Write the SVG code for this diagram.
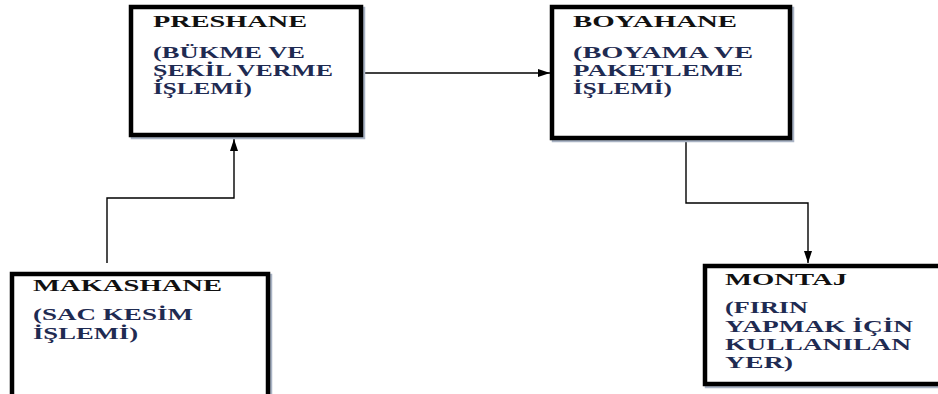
<svg xmlns="http://www.w3.org/2000/svg" width="938" height="394" viewBox="0 0 938 394">
<defs>
<marker id="arr" viewBox="0 0 12 8" refX="12" refY="4" markerWidth="12" markerHeight="8" markerUnits="userSpaceOnUse" orient="auto">
<path d="M0,0 L12,4 L0,8 Z" fill="#000"/>
</marker>
</defs>
<style>
.shadow{fill:none;stroke:#a9b3c4;stroke-width:4.5}
.box{fill:#fff;stroke:#000;stroke-width:4.5}
.t{font-family:"Liberation Serif","Times New Roman",serif;font-weight:bold;font-size:16px;fill:#111}
.b{font-family:"Liberation Serif","Times New Roman",serif;font-weight:bold;font-size:16px;fill:#1f2b52}
.c{fill:none;stroke:#000;stroke-width:1.4}
</style>
<rect width="938" height="394" fill="#fff"/>
<g id="connectors">
<path class="c" d="M363,73 H550" marker-end="url(#arr)"/>
<path class="c" d="M107,263 V198 H234 V139" marker-end="url(#arr)"/>
<path class="c" d="M686,141 V203 H808 V263" marker-end="url(#arr)"/>
</g>
<g id="preshane">
<rect class="shadow" x="133" y="9" width="230" height="128"/>
<rect class="box" x="131" y="7" width="230" height="128"/>
<g transform="translate(153,0) scale(1.7,1)">
<text class="t" x="0" y="27" textLength="90.6" lengthAdjust="spacingAndGlyphs">PRESHANE</text>
<text class="b" x="0" y="58" textLength="89.4" lengthAdjust="spacingAndGlyphs">(BÜKME VE</text>
<text class="b" x="0" y="76" textLength="105.9" lengthAdjust="spacingAndGlyphs">ŞEKİL VERME</text>
<text class="b" x="0" y="94" textLength="58.2" lengthAdjust="spacingAndGlyphs">İŞLEMİ)</text>
</g>
</g>
<g id="boyahane">
<rect class="shadow" x="554" y="9" width="238" height="131"/>
<rect class="box" x="552" y="7" width="238" height="131"/>
<g transform="translate(573,0) scale(1.7,1)">
<text class="t" x="0" y="27" textLength="96.5" lengthAdjust="spacingAndGlyphs">BOYAHANE</text>
<text class="b" x="0" y="58" textLength="105.9" lengthAdjust="spacingAndGlyphs">(BOYAMA VE</text>
<text class="b" x="0" y="76" textLength="100" lengthAdjust="spacingAndGlyphs">PAKETLEME</text>
<text class="b" x="0" y="94" textLength="58.2" lengthAdjust="spacingAndGlyphs">İŞLEMİ)</text>
</g>
</g>
<g id="makashane">
<rect class="shadow" x="14" y="276" width="256" height="200"/>
<rect class="box" x="12" y="274" width="256" height="200"/>
<g transform="translate(33,0) scale(1.7,1)">
<text class="t" x="0" y="291" textLength="111.2" lengthAdjust="spacingAndGlyphs">MAKASHANE</text>
<text class="b" x="0" y="320" textLength="94.1" lengthAdjust="spacingAndGlyphs">(SAC KESİM</text>
<text class="b" x="0" y="339" textLength="61.8" lengthAdjust="spacingAndGlyphs">İŞLEMİ)</text>
</g>
</g>
<g id="montaj">
<rect class="shadow" x="707" y="268" width="240" height="118"/>
<rect class="box" x="705" y="266" width="240" height="118"/>
<g transform="translate(725,0) scale(1.7,1)">
<text class="t" x="0" y="285" textLength="71.8" lengthAdjust="spacingAndGlyphs">MONTAJ</text>
<text class="b" x="0" y="313" textLength="48.8" lengthAdjust="spacingAndGlyphs">(FIRIN</text>
<text class="b" x="0" y="332" textLength="110.6" lengthAdjust="spacingAndGlyphs">YAPMAK İÇİN</text>
<text class="b" x="0" y="350" textLength="109.4" lengthAdjust="spacingAndGlyphs">KULLANILAN</text>
<text class="b" x="0" y="368" textLength="40" lengthAdjust="spacingAndGlyphs">YER)</text>
</g>
</g>
</svg>
